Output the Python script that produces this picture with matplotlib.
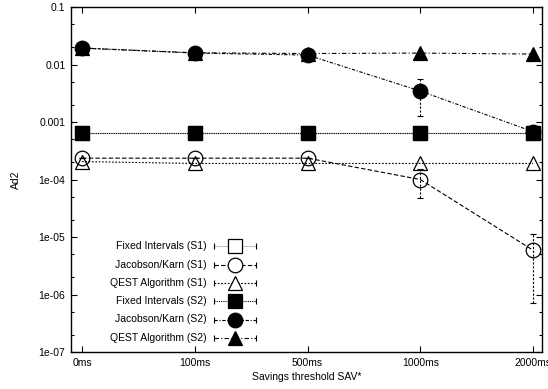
import matplotlib
matplotlib.use("Agg")
import matplotlib.pyplot as plt
from matplotlib.lines import Line2D
from matplotlib.ticker import LogLocator, NullFormatter, FixedLocator

plt.rcParams['font.family'] = ['Liberation Sans', 'DejaVu Sans']
plt.rcParams['font.size'] = 7.5

# Data
thresholds = ["0ms", "100ms", "500ms", "1000ms", "2000ms"]
xpos = [0, 1, 2, 3, 4]

fixed_s1 = [0.00065, 0.00065, 0.00065, 0.00065, 0.00065]
jacobson_s1 = [0.000235, 0.000235, 0.000235, 0.0001, 0.0000059]
jacobson_s1_err = [0, 0, 0, 0.000053, 0.0000052]
qest_s1 = [0.000205, 0.00019, 0.00019, 0.00019, 0.00019]

fixed_s2 = [0.00065, 0.00065, 0.00065, 0.00065, 0.00065]
jacobson_s2 = [0.0194, 0.0158, 0.0146, 0.00346, 0.00068]
jacobson_s2_err = [0, 0, 0, 0.0022, 0.00009]
qest_s2 = [0.0192, 0.0160, 0.0155, 0.0158, 0.0152]

labels = ["Fixed Intervals (S1)", "Jacobson/Karn (S1)", "QEST Algorithm (S1)",
          "Fixed Intervals (S2)", "Jacobson/Karn (S2)", "QEST Algorithm (S2)"]

fig = plt.figure(figsize=(5.48, 3.89), dpi=100)
ax = fig.add_axes([71 / 548, 1 - 352 / 389, 471 / 548, 345 / 389])

ms = 10.5
lw = 0.8
# (linestyle, marker, filled, line color)
styles = [
    ('-', 's', False, '#c0c0c0'),
    ((0, (4, 2)), 'o', False, 'black'),
    ((0, (1.5, 1.5)), '^', False, 'black'),
    ((0, (1, 1)), 's', True, 'black'),
    ((0, (3, 1.5, 1, 1.5)), 'o', True, 'black'),
    ((0, (4, 2, 1, 2)), '^', True, 'black'),
]
series = [fixed_s1, jacobson_s1, qest_s1, fixed_s2, jacobson_s2, qest_s2]
errors = [None, jacobson_s1_err, None, None, jacobson_s2_err, None]

for vals, err, (ls, mk, filled, col) in zip(series, errors, styles):
    ax.plot(xpos, vals, linestyle=ls, color=col, lw=lw)
    ax.plot(xpos, vals, linestyle='none', marker=mk, markersize=ms,
            markerfacecolor='black' if filled else 'none',
            markeredgecolor='black', markeredgewidth=0.9)
    if err is not None:
        eb = ax.errorbar(xpos, vals, yerr=err, fmt='none', ecolor='black',
                         elinewidth=0.8, capsize=2.5, capthick=0.8)
        eb[2][0].set_linestyle((0, (2, 1.5)))

ax.set_yscale('log')
ax.set_ylim(1e-7, 0.1)
ax.set_xlim(-0.098, 4.08)
ax.yaxis.set_major_locator(FixedLocator([1e-7, 1e-6, 1e-5, 1e-4, 1e-3, 1e-2, 1e-1]))
ax.set_yticklabels(["1e-07", "1e-06", "1e-05", "1e-04", "0.001", "0.01", "0.1"])
ax.yaxis.set_minor_locator(LogLocator(base=10, subs=(2.0, 5.0), numticks=20))
ax.yaxis.set_minor_formatter(NullFormatter())
ax.set_xticks(xpos)
ax.set_xticklabels(thresholds)
ax.tick_params(which='both', direction='in', top=True, right=True, width=0.8)
ax.tick_params(which='major', length=4.5, pad=4)
ax.tick_params(which='minor', length=2.5)
for s in ax.spines.values():
    s.set_linewidth(1.0)

ax.set_xlabel("Savings threshold SAV*", labelpad=3)
ax.set_ylabel("Ad2", labelpad=13)

# gnuplot style key: right aligned text, sample line with error caps
row_y = [246, 264.5, 282.5, 301, 319.5, 338]
for lab, py, (ls, mk, filled, col) in zip(labels, row_y, styles):
    ya = (352 - py) / 345
    xt = (207 - 71) / 471
    x0, x1, xm = (214 - 71) / 471, (256 - 71) / 471, (235 - 71) / 471
    ax.text(xt, ya, lab, transform=ax.transAxes, ha='right', va='center')
    ax.add_line(Line2D([x0, x1], [ya, ya], transform=ax.transAxes,
                       linestyle=ls, color=col, lw=lw))
    ax.add_line(Line2D([x0, x1], [ya, ya], transform=ax.transAxes,
                       linestyle='none', marker='|', markersize=4,
                       color='black', markeredgewidth=0.8))
    ax.add_line(Line2D([xm], [ya], transform=ax.transAxes, linestyle='none',
                       marker=mk, markersize=ms,
                       markerfacecolor='black' if filled else 'white',
                       markeredgecolor='black', markeredgewidth=0.9))

fig.savefig("out.png", dpi=100)
